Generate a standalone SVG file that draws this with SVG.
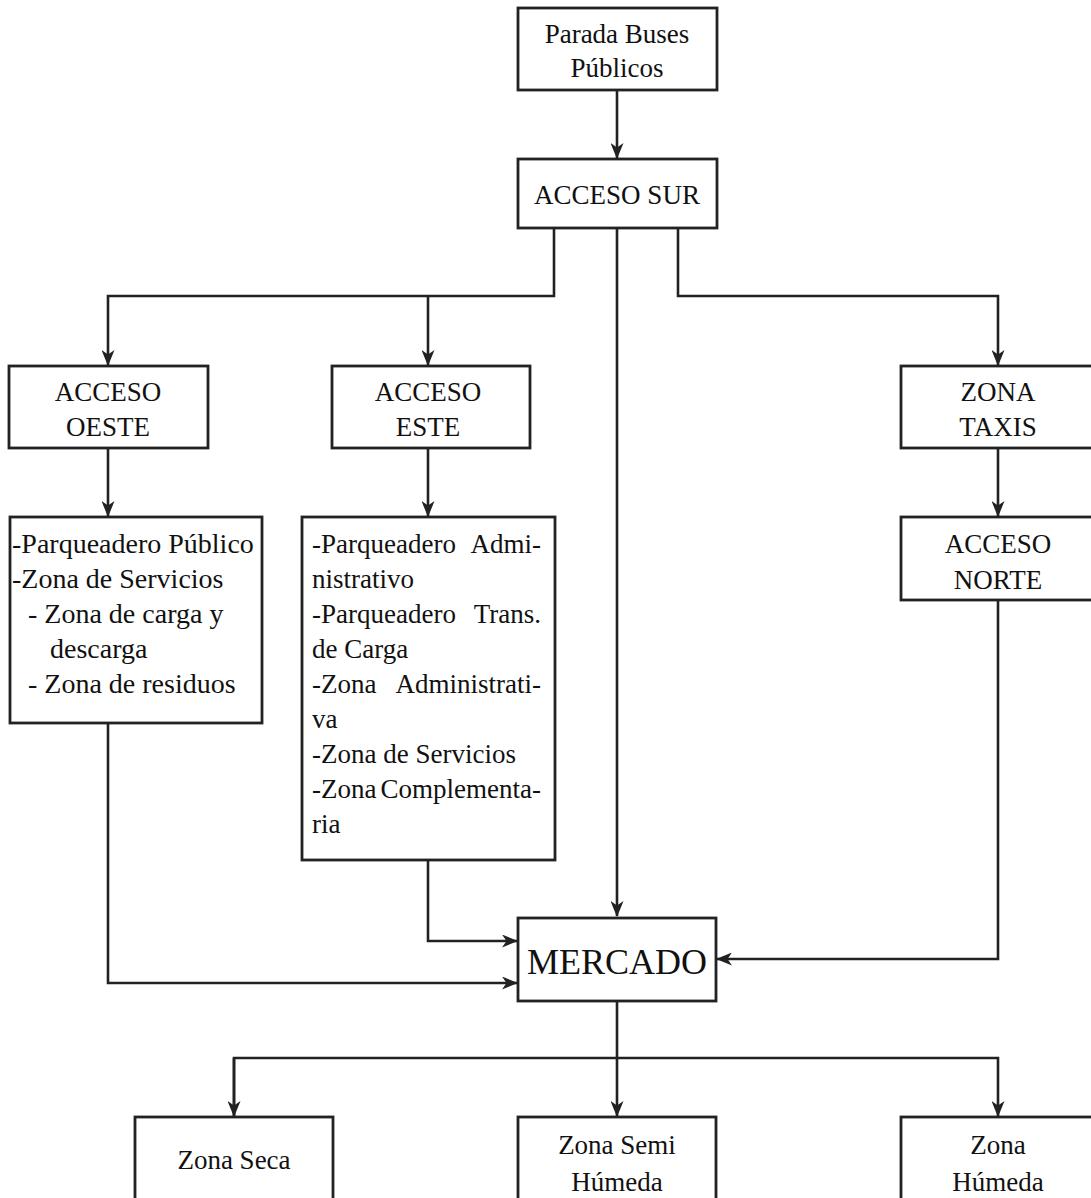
<svg xmlns="http://www.w3.org/2000/svg" width="1091" height="1198" viewBox="0 0 1091 1198">
<style>
.box{fill:#fff;stroke:#222;stroke-width:2.8}
.t{font-family:"Liberation Serif","Times New Roman",serif;font-size:27px;fill:#111;text-anchor:middle}
.b{font-family:"Liberation Serif","Times New Roman",serif;font-size:27px;fill:#111}
.w{font-size:28px}
.e{text-anchor:end}
.big{font-size:36px}
.c{fill:none;stroke:#222;stroke-width:2.6}
</style>
<defs>
<marker id="ah" viewBox="0 0 16 13" refX="15" refY="6.5" markerWidth="16" markerHeight="13" markerUnits="userSpaceOnUse" orient="auto">
<path d="M0,0 L16,6.5 L0,13 L4.5,6.5 z" fill="#222"/>
</marker>
</defs>
<rect width="1091" height="1198" fill="#fff"/>
<g id="connectors">
<path class="c" d="M617,90 V158" marker-end="url(#ah)"/>
<path class="c" d="M554,228 V296 H108 V365" marker-end="url(#ah)"/>
<path class="c" d="M428,296 V365" marker-end="url(#ah)"/>
<path class="c" d="M678,228 V296 H998 V365" marker-end="url(#ah)"/>
<path class="c" d="M617,228 V916" marker-end="url(#ah)"/>
<path class="c" d="M108,448 V516" marker-end="url(#ah)"/>
<path class="c" d="M428,448 V516" marker-end="url(#ah)"/>
<path class="c" d="M998,448 V516" marker-end="url(#ah)"/>
<path class="c" d="M108,723 V983 H517" marker-end="url(#ah)"/>
<path class="c" d="M428,860 V941 H517" marker-end="url(#ah)"/>
<path class="c" d="M998,600 V959 H717" marker-end="url(#ah)"/>
<path class="c" d="M617,1001 V1116" marker-end="url(#ah)"/>
<path class="c" d="M234,1116 V1058 H998 V1116" marker-end="url(#ah)"/>
<path class="c" d="M234,1058 V1116" marker-end="url(#ah)"/>
</g>
<g id="parada">
<rect class="box" x="518" y="8" width="199" height="82"/>
<text class="t" x="617" y="43">Parada Buses</text>
<text class="t" x="617" y="77">Públicos</text>
</g>
<g id="acceso-sur">
<rect class="box" x="518" y="159" width="199" height="69"/>
<text class="t" x="617" y="204">ACCESO SUR</text>
</g>
<g id="acceso-oeste">
<rect class="box" x="9" y="366" width="199" height="82"/>
<text class="t" x="108" y="401">ACCESO</text>
<text class="t" x="108" y="436">OESTE</text>
</g>
<g id="acceso-este">
<rect class="box" x="332" y="366" width="198" height="82"/>
<text class="t" x="428" y="401">ACCESO</text>
<text class="t" x="428" y="436">ESTE</text>
</g>
<g id="zona-taxis">
<rect class="box" x="901" y="366" width="200" height="82"/>
<text class="t" x="998" y="401">ZONA</text>
<text class="t" x="998" y="436">TAXIS</text>
</g>
<g id="acceso-norte">
<rect class="box" x="901" y="517" width="200" height="83"/>
<text class="t" x="998" y="553">ACCESO</text>
<text class="t" x="998" y="589">NORTE</text>
</g>
<g id="oeste-zonas">
<rect class="box" x="10" y="517" width="252" height="206"/>
<text class="b w" x="12" y="553">-Parqueadero Público</text>
<text class="b w" x="12" y="588">-Zona de Servicios</text>
<text class="b w" x="28" y="623">- Zona de carga y</text>
<text class="b w" x="50" y="658">descarga</text>
<text class="b w" x="28" y="693">- Zona de residuos</text>
</g>
<g id="este-zonas">
<rect class="box" x="302" y="517" width="253" height="343"/>
<text class="b" x="312" y="553">-Parqueadero</text><text class="b e" x="541" y="553">Admi-</text>
<text class="b" x="312" y="588">nistrativo</text>
<text class="b" x="312" y="623">-Parqueadero</text><text class="b e" x="541" y="623">Trans.</text>
<text class="b" x="312" y="658">de Carga</text>
<text class="b" x="312" y="693">-Zona</text><text class="b e" x="541" y="693">Administrati-</text>
<text class="b" x="312" y="728">va</text>
<text class="b" x="312" y="763">-Zona de Servicios</text>
<text class="b" x="312" y="798">-Zona</text><text class="b e" x="541" y="798">Complementa-</text>
<text class="b" x="312" y="833">ria</text>
</g>
<g id="mercado">
<rect class="box" x="518" y="918" width="198" height="83"/>
<text class="t big" x="617" y="974">MERCADO</text>
</g>
<g id="zona-seca">
<rect class="box" x="135" y="1117" width="198" height="100"/>
<text class="t" x="234" y="1169">Zona Seca</text>
</g>
<g id="zona-semi-humeda">
<rect class="box" x="518" y="1117" width="198" height="100"/>
<text class="t" x="617" y="1154">Zona Semi</text>
<text class="t" x="617" y="1191">Húmeda</text>
</g>
<g id="zona-humeda">
<rect class="box" x="901" y="1117" width="200" height="100"/>
<text class="t" x="998" y="1154">Zona</text>
<text class="t" x="998" y="1191">Húmeda</text>
</g>
</svg>
